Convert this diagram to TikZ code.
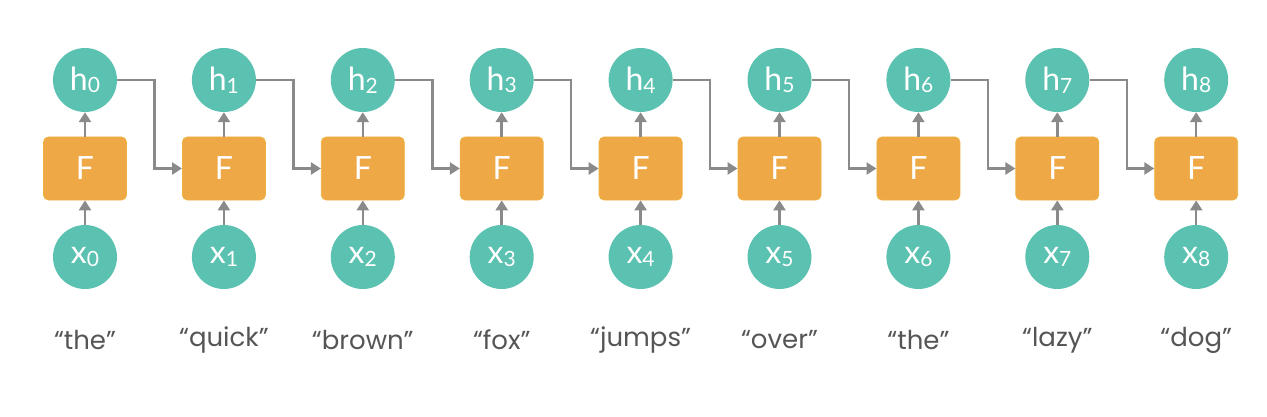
\documentclass[tikz,border=0pt]{standalone}
\usepackage{fontspec}
\setmainfont{Lato}
\newfontfamily\wordfont{Poppins}
\usetikzlibrary{positioning, arrows.meta, calc}

\definecolor{tealc}{HTML}{5BC1B1}
\definecolor{orangec}{HTML}{EEA846}
\definecolor{arrowc}{HTML}{8A8A8A}
\definecolor{wordc}{HTML}{555555}
\newcommand{\idx}[1]{{\fontsize{21}{21}\selectfont\raisebox{-2.5pt}{#1}}}

\tikzset{
    state/.style={circle, fill=tealc, minimum size=64pt, inner sep=0pt,
        text=white, font=\fontsize{32}{32}\selectfont},
    cell/.style={rectangle, rounded corners=5pt, fill=orangec, draw=orangec!90!yellow,
        line width=0.8pt, minimum width=83pt, minimum height=63pt,
        text=white, font=\fontsize{32}{32}\selectfont},
    word/.style={text=wordc, font=\wordfont\fontsize{26}{26}\selectfont},
    flow/.style={draw=arrowc, line width=2.5pt, -{Triangle[width=12pt,length=10pt]}}
}

\begin{document}
\begin{tikzpicture}[x=1pt, y=-1pt, node distance=88.5pt, on grid]
    \useasboundingbox (0,0) rectangle (1267,417);

    \foreach \i/\w in {0/the, 1/quick, 2/brown, 3/fox, 4/jumps, 5/over, 6/the, 7/lazy, 8/dog} {
        \node[cell] (F\i) at (85+138.9*\i, 168.5) {F};
        \node[state] (h\i) [above=of F\i] {h\idx{\i}};
        \node[state] (x\i) [below=of F\i] {x\idx{\i}};
        \node[word] (w\i) [below=83pt of x\i] {“\w”};

        \path[flow] (F\i) -- (h\i);
        \path[flow] (x\i) -- (F\i);
    }

    \foreach \i [evaluate=\i as \j using int(\i+1)] in {0,...,7} {
        \coordinate (m\i) at ($(F\i.east)!0.5!(F\j.west)$);
        \path[flow, rounded corners=0pt] (h\i.east) -| (m\i) |- (F\j.west);
    }
\end{tikzpicture}
\end{document}
